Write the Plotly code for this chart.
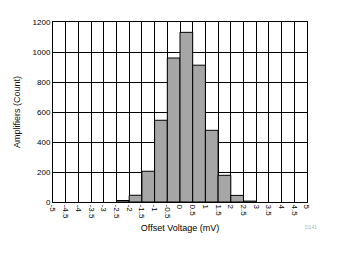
import plotly.graph_objects as go

bin_left = [-2.5, -2.0, -1.5, -1.0, -0.5, 0.0, 0.5, 1.0, 1.5, 2.0, 2.5]
counts = [10, 45, 205, 545, 960, 1131, 912, 478, 178, 44, 6]
bin_width = 0.5
x_ticks = [-5 + 0.5 * i for i in range(21)]
x_labels = ["-5", "-4.5", "-4", "-3.5", "-3", "-2.5", "-2", "-1.5", "-1", "-0.5", "0",
            "0.5", "1", "1.5", "2", "2.5", "3", "3.5", "4", "4.5", "5"]
y_ticks = [0, 200, 400, 600, 800, 1000, 1200]

centers = [b + bin_width / 2 for b in bin_left]

fig = go.Figure()
fig.add_trace(go.Bar(
    x=centers, y=counts, width=bin_width,
    marker=dict(color="#a6a6a6", line=dict(color="black", width=1)),
))

font = "Liberation Sans, Arial, sans-serif"
fig.update_layout(
    width=340, height=254,
    margin=dict(l=53, r=33, t=22, b=52),
    paper_bgcolor="white", plot_bgcolor="white",
    showlegend=False,
    font=dict(family=font, size=8, color="black"),
    xaxis=dict(
        range=[-5, 5], tickmode="array", tickvals=x_ticks, ticktext=x_labels,
        tickangle=90, showgrid=True, gridcolor="black", gridwidth=1,
        showline=True, linecolor="black", linewidth=1, mirror=True,
        zeroline=False, ticks="", ticklen=0,
        title=dict(text="Offset Voltage (mV)", font=dict(size=9), standoff=6),
    ),
    yaxis=dict(
        range=[0, 1200], tickmode="array", tickvals=y_ticks,
        showgrid=True, gridcolor="black", gridwidth=1,
        showline=True, linecolor="black", linewidth=1, mirror=True,
        zeroline=False, ticks="", ticklen=0,
        title=dict(text="Amplifiers (Count)", font=dict(size=9, color="#1a1010"), standoff=10),
    ),
    annotations=[dict(
        text="D141", x=319, y=232, xref="paper", yref="paper",
        showarrow=False, font=dict(size=5, color="#b0b0b0"),
    )],
)
pw = 340 - 53 - 33
ph = 254 - 22 - 52
fig.layout.annotations[0].x = (319 - 53) / pw
fig.layout.annotations[0].y = (254 - 52 - 232) / ph

fig.write_html("out.html")
